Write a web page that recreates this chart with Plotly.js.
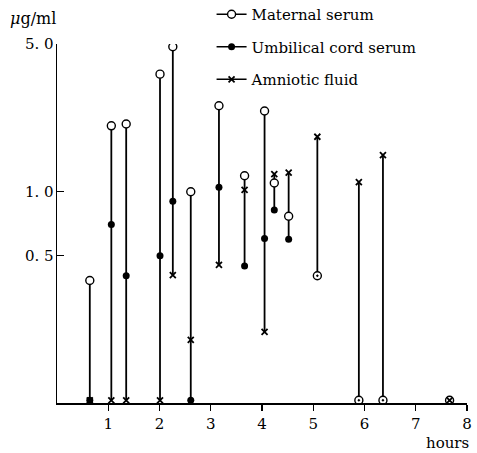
<!DOCTYPE html>
<html>
<head>
<meta charset="utf-8">
<script src="https://cdn.plot.ly/plotly-3.0.1.min.js"></script>
<style>html,body{margin:0;padding:0;background:#fff;}</style>
</head>
<body>
<div id="chart" style="width:477px;height:453px;"></div>
<script>
// Sampling times (hours) and concentrations (µg/ml); 0.103 = not detected (on the axis)
const hours    = [0.64, 1.06, 1.35, 2.01, 2.26, 2.61, 3.16, 3.66, 4.05, 4.24, 4.52, 5.08, 5.89, 6.36, 7.66];
const maternal = [0.38, 2.05, 2.09, 3.60, 4.85, 1.00, 2.55, 1.19, 2.41, 1.10, 0.765, 0.40, 0.103, 0.103, 0.103];
const cord     = [0.103, 0.70, 0.40, 0.497, 0.90, 0.103, 1.05, 0.445, 0.60, 0.82, 0.595, 0.40, 0.103, 0.103, 0.103];
const amniotic = [0.103, 0.103, 0.103, 0.103, 0.403, 0.199, 0.45, 1.02, 0.217, 1.21, 1.23, 1.82, 1.11, 1.49, 0.103];
const seriesNames = ['Maternal serum', 'Umbilical cord serum', 'Amniotic fluid'];
const yTickVals = [0.5, 1, 5];
const yTickText = ['0. 5', '1. 0', '5. 0'];
const xTickVals = [1, 2, 3, 4, 5, 6, 7, 8];

const FONT = 'DejaVu Serif, Liberation Serif, serif';

// vertical connectors from min to max per sample
const lx = [], ly = [];
hours.forEach((h, i) => {
  const v = [maternal[i], cord[i], amniotic[i]];
  lx.push(h, h, null);
  ly.push(Math.min(...v), Math.max(...v), null);
});

// isolate points with nulls so legend shows a line segment but no line is drawn
function sep(xs, ys) {
  const ox = [], oy = [];
  xs.forEach((x, i) => { ox.push(x, null); oy.push(ys[i], null); });
  return [ox, oy];
}
const [mx, my] = sep(hours, maternal);
const [cx, cy] = sep(hours, cord);
const [ax, ay] = sep(hours, amniotic);
const mSym = [];
maternal.forEach((v, i) => { mSym.push(v === cord[i] ? 'circle-dot' : 'circle', 'circle'); });

const traces = [
  {x: lx, y: ly, mode: 'lines', line: {color: '#000', width: 1.8}, showlegend: false, hoverinfo: 'skip'},
  {x: cx, y: cy, name: seriesNames[1], mode: 'lines+markers', legendrank: 2, legendgroup: 'c',
   line: {color: '#000', width: 1.5},
   marker: {symbol: 'circle', size: 7, color: '#000', line: {width: 0}}},
  {x: mx, y: my, name: seriesNames[0], mode: 'lines+markers', legendrank: 1, legendgroup: 'm',
   line: {color: '#000', width: 1.5},
   marker: {symbol: mSym, size: 8, color: '#fff', line: {color: '#000', width: 1.4}}},
  {x: ax, y: ay, name: seriesNames[2], mode: 'lines+markers', legendrank: 3, legendgroup: 'a',
   line: {color: '#000', width: 1.5},
   marker: {symbol: 'x-thin-open', size: 6, color: '#000', line: {color: '#000', width: 1.8}}}
];

const layout = {
  width: 477, height: 453,
  margin: {l: 57, r: 10, t: 44, b: 50, autoexpand: false},
  paper_bgcolor: '#fff', plot_bgcolor: '#fff',
  font: {family: FONT, color: '#000', size: 14},
  showlegend: true,
  legend: {x: 0.377, y: 1.128, xanchor: 'left', yanchor: 'top', bgcolor: 'rgba(0,0,0,0)',
           font: {family: FONT, size: 15, color: '#000'}, tracegroupgap: 10, traceorder: 'grouped',
           itemwidth: 30},
  xaxis: {range: [0, 8], showgrid: false, zeroline: false, showline: true, linecolor: '#000', linewidth: 1.5,
          ticks: 'outside', ticklen: 6, tickcolor: '#000', tickwidth: 1.2, tickvals: xTickVals,
          tickfont: {family: FONT, size: 15}},
  yaxis: {type: 'log', range: [-1, Math.log10(5)], showgrid: false, zeroline: false, showline: true,
          linecolor: '#000', linewidth: 1.5, ticks: 'inside', ticklen: 7, tickcolor: '#000', tickwidth: 1.2,
          tickvals: yTickVals, ticktext: yTickText, tickfont: {family: FONT, size: 15},
          ticklabelstandoff: -1},
  annotations: [
    {text: '<i>μ</i>g/ml', xref: 'paper', yref: 'paper', x: -0.12, y: 1.07, xanchor: 'left', yanchor: 'middle',
     showarrow: false, font: {family: FONT, size: 16}},
    {text: 'hours', xref: 'paper', yref: 'paper', x: 1.01, y: -0.112, xanchor: 'right', yanchor: 'middle',
     showarrow: false, font: {family: FONT, size: 15}}
  ]
};

Plotly.newPlot('chart', traces, layout, {displayModeBar: false, staticPlot: true});
</script>
</body>
</html>
